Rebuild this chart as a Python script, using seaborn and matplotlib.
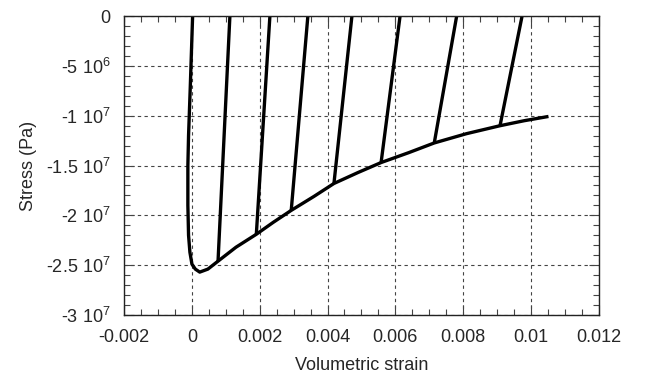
import numpy as np
import pandas as pd
import matplotlib
matplotlib.use("Agg")
import matplotlib.pyplot as plt
import matplotlib.ticker as mticker
import seaborn as sns

# Loading path (envelope)
env_strain = [0.00002, -0.00005, -0.00010, -0.00012, -0.00012, -0.00010, -0.00006, 0.0,
              0.0001, 0.00023, 0.00047, 0.00077, 0.0013, 0.0019, 0.0024, 0.00293,
              0.0036, 0.00419, 0.0049, 0.00558, 0.0064, 0.00715, 0.0081, 0.00909,
              0.0098, 0.01052]
env_stress = [0, -7.2e6, -1.2e7, -1.5e7, -1.9e7, -2.2e7, -2.37e7, -2.49e7,
              -2.54e7, -2.57e7, -2.54e7, -2.46e7, -2.32e7, -2.19e7, -2.07e7, -1.95e7,
              -1.81e7, -1.68e7, -1.57e7, -1.47e7, -1.37e7, -1.273e7, -1.18e7, -1.1e7,
              -1.05e7, -1.007e7]

# Unloading lines: start on envelope, end at zero stress
unl_start_strain = [0.00077, 0.0019, 0.00293, 0.00419, 0.00558, 0.00715, 0.00909]
unl_start_stress = [-2.46e7, -2.19e7, -1.95e7, -1.68e7, -1.473e7, -1.273e7, -1.1e7]
unl_end_strain = [0.00112, 0.0023, 0.00342, 0.00472, 0.00614, 0.00781, 0.00974]
unl_end_stress = [0, 0, 0, 0, 0, 0, 0]

x_ticks = [-0.002, 0, 0.002, 0.004, 0.006, 0.008, 0.01, 0.012]
x_tick_labels = ["-0.002", "0", "0.002", "0.004", "0.006", "0.008", "0.01", "0.012"]
y_ticks = [0, -5e6, -1e7, -1.5e7, -2e7, -2.5e7, -3e7]
y_tick_labels = ["0", r"-5 $10^{6}$", r"-1 $10^{7}$", r"-1.5 $10^{7}$",
                 r"-2 $10^{7}$", r"-2.5 $10^{7}$", r"-3 $10^{7}$"]

rows = []
for xs, ys in zip(env_strain, env_stress):
    rows.append(("env", xs, ys))
for i in range(len(unl_start_strain)):
    rows.append((f"u{i}", unl_start_strain[i], unl_start_stress[i]))
    rows.append((f"u{i}", unl_end_strain[i], unl_end_stress[i]))
df = pd.DataFrame(rows, columns=["seg", "strain", "stress"])

sns.set_style("ticks")
plt.rcParams["font.family"] = ["Liberation Sans", "DejaVu Sans"]
plt.rcParams["mathtext.default"] = "regular"
plt.rcParams["axes.unicode_minus"] = False

fig = plt.figure(figsize=(6.5, 3.85), dpi=100)
ax = fig.add_axes([0.191, 0.182, 0.730, 0.776])

sns.lineplot(data=df, x="strain", y="stress", units="seg", estimator=None,
             sort=False, color="black", linewidth=2.4, ax=ax, legend=False,
             solid_capstyle="butt")

ax.set_xlim(-0.002, 0.012)
ax.set_ylim(-3e7, 0)
ax.set_xticks(x_ticks)
ax.set_xticklabels(x_tick_labels)
ax.set_yticks(y_ticks)
ax.set_yticklabels(y_tick_labels)
ax.xaxis.set_minor_locator(mticker.MultipleLocator(0.0005))
ax.yaxis.set_minor_locator(mticker.MultipleLocator(1e6))

ax.tick_params(which="both", direction="in", top=True, right=True,
               color="#444444", width=0.8)
ax.tick_params(which="major", length=7, labelsize=13, pad=10)
ax.tick_params(which="minor", length=4)

ax.grid(which="major", linestyle=(0, (3, 3)), color="#444444", linewidth=0.8)
for sp in ax.spines.values():
    sp.set_visible(True)
    sp.set_color("#222222")
    sp.set_linewidth(1.0)

ax.set_xlabel("Volumetric strain", fontsize=13, labelpad=8)
ax.set_ylabel("Stress (Pa)", fontsize=13, labelpad=6)

fig.savefig("out.png", dpi=100)
